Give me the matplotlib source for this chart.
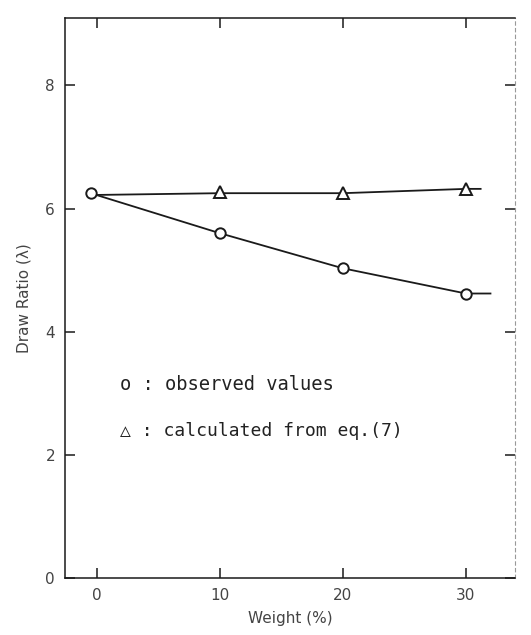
import matplotlib
matplotlib.use("Agg")
import matplotlib.pyplot as plt

# Data
weight = [-0.5, 10, 20, 30]
observed = [6.25, 5.6, 5.03, 4.62]
calc_weight = [10, 20, 30]
calculated = [6.27, 6.25, 6.32]

# drawn guide curves (as in the original, slightly beyond last points)
obs_curve_x = [-0.5, 10, 20, 30, 32]
obs_curve_y = [6.25, 5.6, 5.03, 4.62, 4.62]
calc_curve_x = [-0.5, 10, 20, 30, 31.2]
calc_curve_y = [6.22, 6.25, 6.25, 6.32, 6.32]

xticks = [0, 10, 20, 30]
xticklabels = ["0", "10", "20", "30"]
yticks = [0, 2, 4, 6, 8]
yticklabels = ["0", "2", "4", "6", "8"]

ink = "#1a1a1a"
light = "#444444"

fig = plt.figure(figsize=(5.31, 6.35), dpi=100)
ax = fig.add_axes([0.122, 0.090, 0.848, 0.882])

ax.plot(obs_curve_x, obs_curve_y, color=ink, lw=1.3, zorder=2)
ax.plot(calc_curve_x, calc_curve_y, color=ink, lw=1.3, zorder=2)
ax.plot(weight, observed, linestyle="none", marker="o", ms=7.5, mfc="white",
        mec=ink, mew=1.4, zorder=3)
ax.plot(calc_weight, calculated, linestyle="none", marker="^", ms=8.5, mfc="white",
        mec=ink, mew=1.4, zorder=3)

ax.set_xlim(-2.6, 34)
ax.set_ylim(0, 9.1)
ax.set_xticks(xticks)
ax.set_xticklabels(xticklabels)
ax.set_yticks(yticks)
ax.set_yticklabels(yticklabels)
ax.tick_params(direction="in", length=7, width=1.1, color=ink,
               labelsize=11, labelcolor=light, top=True, right=True, pad=7)

for side in ["left", "bottom", "top"]:
    ax.spines[side].set_color(ink)
    ax.spines[side].set_linewidth(1.1)
ax.spines["right"].set_color("#999999")
ax.spines["right"].set_linestyle((0, (3, 3)))
ax.spines["right"].set_linewidth(0.8)

ax.set_xlabel("Weight (%)", fontsize=11, color=light, labelpad=6)
ax.set_ylabel("Draw Ratio (λ)", fontsize=11, color=light, labelpad=10)

mono = ["DejaVu Sans Mono", "DejaVu Sans"]
ax.text(1.9, 3.06, "o : observed values", fontsize=13.5, color="#222222",
        family=mono)
ax.text(1.9, 2.30, "△ : calculated from eq.(7)", fontsize=13, color="#222222",
        family=mono)

fig.savefig("out.png", dpi=100)
